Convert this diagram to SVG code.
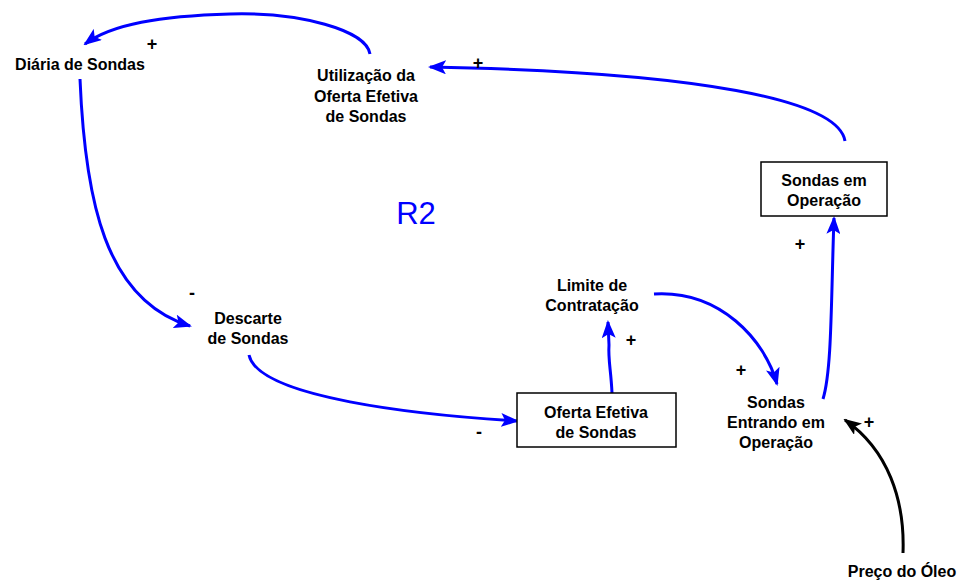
<svg xmlns="http://www.w3.org/2000/svg" width="960" height="582" viewBox="0 0 960 582">
<style>
text{font-family:"Liberation Sans",Arial,sans-serif;font-weight:bold;font-size:16px;fill:#000;text-anchor:middle}
.sign{font-size:18px}
.c{fill:none;stroke:#0000ff;stroke-width:3}
.k{fill:none;stroke:#000;stroke-width:3}
.box{fill:#fff;stroke:#000;stroke-width:1.5}
</style>
<defs>
<marker id="ab" markerUnits="userSpaceOnUse" markerWidth="18" markerHeight="14" viewBox="0 0 18 14" refX="16" refY="7" orient="auto"><path d="M0,0 L18,7 L0,14 L4,7 Z" fill="#0000ff"/></marker>
<marker id="ak" markerUnits="userSpaceOnUse" markerWidth="18" markerHeight="14" viewBox="0 0 18 14" refX="16" refY="7" orient="auto"><path d="M0,0 L18,7 L0,14 L4,7 Z" fill="#000"/></marker>
</defs>
<g id="connectors">
<path class="c" marker-end="url(#ab)" d="M370,54 C366,30 300,12 230,14 C160,16 112,24 85,44"/>
<path class="c" marker-end="url(#ab)" d="M845,141 C838,100 700,72 430,67"/>
<path class="c" marker-end="url(#ab)" d="M80,79 C85,200 105,300 190,326"/>
<path class="c" marker-end="url(#ab)" d="M249,355 C258,398 420,415 517,421"/>
<path class="c" marker-end="url(#ab)" d="M612,393 C611,370 608,360 609,345 L608,322"/>
<path class="c" marker-end="url(#ab)" d="M654,294 C720,290 765,340 777,384"/>
<path class="c" marker-end="url(#ab)" d="M823,399 C832,370 831,300 834,218"/>
<path class="k" marker-end="url(#ak)" d="M903,553 C905,500 888,450 845,420"/>
</g>
<g id="n-diaria"><text x="80" y="70">Diária de Sondas</text></g>
<g id="n-utilizacao"><text x="366" y="81">Utilização da</text><text x="366" y="102">Oferta Efetiva</text><text x="366" y="122">de Sondas</text></g>
<g id="n-sondas-operacao"><rect class="box" x="761" y="162" width="126" height="54"/><text x="824" y="186">Sondas em</text><text x="824" y="206">Operação</text></g>
<g id="n-limite"><text x="592" y="291">Limite de</text><text x="592" y="311">Contratação</text></g>
<g id="n-descarte"><text x="248" y="324">Descarte</text><text x="248" y="344">de Sondas</text></g>
<g id="n-oferta"><rect class="box" x="517" y="393" width="159" height="54"/><text x="596" y="418">Oferta Efetiva</text><text x="596" y="438">de Sondas</text></g>
<g id="n-entrando"><text x="776" y="408">Sondas</text><text x="776" y="428">Entrando em</text><text x="776" y="448">Operação</text></g>
<g id="n-preco"><text x="902" y="577">Preço do Óleo</text></g>
<g id="r2"><text x="416" y="224" style="font-weight:normal;font-size:31px;fill:#0000ff">R2</text></g>
<g id="signs">
<text class="sign" x="152" y="50">+</text>
<text class="sign" x="478" y="69">+</text>
<text class="sign" x="800" y="250">+</text>
<text class="sign" x="192" y="299">-</text>
<text class="sign" x="631" y="346">+</text>
<text class="sign" x="741" y="376">+</text>
<text class="sign" x="479" y="438">-</text>
<text class="sign" x="869" y="428">+</text>
</g>
</svg>
